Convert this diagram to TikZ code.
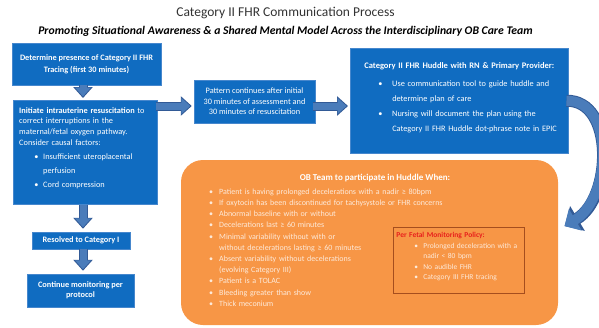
\documentclass[tikz,border=0pt]{standalone}
\usepackage{fontspec}
\setmainfont{Carlito}
\usetikzlibrary{arrows.meta,calc}

\definecolor{boxblue}{RGB}{16,108,193}
\definecolor{boxedge}{RGB}{70,135,205}
\definecolor{arrowblue}{RGB}{74,124,186}
\definecolor{arrowdark}{RGB}{50,90,150}
\definecolor{oborange}{RGB}{247,150,70}
\definecolor{obtext}{RGB}{253,234,218}
\definecolor{policyred}{RGB}{232,32,28}
\definecolor{policyedge}{RGB}{165,78,30}

\newcommand{\obbul}{\makebox[10pt][l]{\textbullet}}
\newcommand{\hbul}{\hspace*{20pt}\makebox[14pt][l]{\textbullet}}
\newcommand{\rbul}{\hspace*{18pt}\makebox[9pt][l]{\textbullet}}
\newcommand{\lbul}{\hspace*{15pt}\makebox[9pt][l]{\textbullet}}

\tikzset{
  txt/.style={font=\fontsize{8.3}{10.6}\selectfont},
  bluebox/.style={draw=boxedge, line width=0.5pt, fill=boxblue, text=white,
    inner sep=0pt, align=center, txt},
  blockarrow/.style 2 args={
    preaction={draw=arrowdark, line width=9pt,
      -{Triangle[width=19pt,length=11pt]}, shorten >=#1},
    draw=arrowblue, line width=7pt,
    -{Triangle[width=15.5pt,length=9pt]}, shorten >=#2},
  curvearrow/.style={
    preaction={draw=arrowdark, line width=12pt,
      -{Triangle[width=28pt,length=15pt]}},
    draw=arrowblue, line width=10pt,
    -{Triangle[width=24.5pt,length=12.5pt]}, shorten >=1.8pt}
}

\begin{document}
\begin{tikzpicture}[x=1pt,y=-1pt]
\useasboundingbox (0,0) rectangle (599,327);

% headings
\node[font=\fontsize{13.5}{16}\selectfont, text=black!80] (title) at (285.5,13)
  {Category II FHR Communication Process};
\node[font=\fontsize{11.7}{14}\bfseries\itshape] (subtitle) at (285.5,31)
  {Promoting Situational Awareness \& a Shared Mental Model Across the Interdisciplinary OB Care Team};

% left column
\node[bluebox, minimum width=149pt, minimum height=42pt,
      font=\fontsize{8.3}{12}\bfseries] (det) at (86.5,64)
  {Determine presence of Category II FHR\\Tracing (first 30 minutes)};

\node[bluebox, anchor=north west, inner xsep=6pt, text width=132pt,
      text height=13pt, text depth=91pt, align=left] (resus) at (13,100)
  {\textbf{Initiate intrauterine resuscitation} to\\
   correct interruptions in the\\
   maternal/fetal oxygen pathway.\\
   Consider causal factors:\\[3.4pt]
   \lbul Insufficient uteroplacental\\[3.4pt]
   \hspace*{24pt}perfusion\\[3.4pt]
   \lbul Cord compression};

\node[bluebox, minimum width=98pt, minimum height=17pt,
      font=\fontsize{8.3}{10}\bfseries] (resolved) at (81,240.5)
  {Resolved to Category I};

\node[bluebox, minimum width=107pt, minimum height=33pt,
      font=\fontsize{8.3}{10}\bfseries] (cont) at (80.5,290.5)
  {Continue monitoring per\\protocol};

% middle and right boxes
\node[bluebox, minimum width=121pt, minimum height=43pt] (pattern) at (254.5,101.5)
  {Pattern continues after initial\\30 minutes of assessment and\\30 minutes of resuscitation};

\node[bluebox, anchor=north west, inner xsep=8pt, text width=202pt,
      text height=20pt, text depth=85pt, align=left] (huddle) at (350,48)
  {\makebox[202pt][c]{\fontsize{8.5}{10}\bfseries Category II FHR Huddle with RN \& Primary Provider:}\\[7.9pt]
   \hbul Use communication tool to guide huddle and\\[4.4pt]
   \hspace*{34pt}determine plan of care\\[4.4pt]
   \hbul Nursing will document the plan using the\\[4.4pt]
   \hspace*{34pt}Category II FHR Huddle dot-phrase note in EPIC};

% OB team panel
\node[fill=oborange, rounded corners=22pt, minimum width=377pt,
      minimum height=165pt, inner sep=0pt] (ob) at (369.5,242.5) {};
\node[font=\fontsize{9}{11}\bfseries, text=white] (obtitle) at (375,178)
  {OB Team to participate in Huddle When:};
\node[anchor=north west, inner sep=0pt, text width=240pt, align=left,
      text height=8pt, text=obtext, font=\fontsize{8}{11.2}\selectfont] (oblist) at (209,186)
  {\obbul Patient is having prolonged decelerations with a nadir ≥ 80bpm\\
   \obbul If oxytocin has been discontinued for tachysystole or FHR concerns\\
   \obbul Abnormal baseline with or without\\
   \obbul Decelerations last ≥ 60 minutes\\
   \obbul Minimal variability without with or\\
   \hspace*{10pt}without decelerations lasting ≥ 60 minutes\\
   \obbul Absent variability without decelerations\\
   \hspace*{10pt}(evolving Category III)\\
   \obbul Patient is a TOLAC\\
   \obbul Bleeding greater than show\\
   \obbul Thick meconium};

\node[draw=policyedge, line width=0.8pt, anchor=north west, inner xsep=3pt,
      inner ysep=0pt, text width=125pt, text height=10.3pt, text depth=55.7pt,
      align=left, text=obtext, font=\fontsize{7.5}{10.5}\selectfont] (policy) at (393,227)
  {\textcolor{policyred}{\bfseries Per Fetal Monitoring Policy:}\\
   \rbul Prolonged deceleration with a\\
   \hspace*{27pt}nadir < 80 bpm\\
   \rbul No audible FHR\\
   \rbul Category III FHR tracing};

% connectors
\coordinate (spine) at (83,0);
\coordinate (row) at (0,106);
\draw[blockarrow={2pt}{3.5pt}] (spine |- det.south) -- (spine |- resus.north);
\draw[blockarrow={3pt}{4.5pt}] (spine |- resus.south) -- (spine |- resolved.north);
\draw[blockarrow={3pt}{4.5pt}] (spine |- resolved.south) -- (spine |- cont.north);
\draw[blockarrow={2pt}{3.5pt}] ([xshift=-2pt]resus.east |- row) -- (pattern.west |- row);
\draw[blockarrow={2pt}{3.5pt}] ([xshift=-2pt]pattern.east |- row) -- (huddle.west |- row);
\coordinate (curvetip) at (563,227);
\draw[curvearrow] ([xshift=-2pt]huddle.east)
  .. controls (615,100) and (612,198) .. (curvetip);
\end{tikzpicture}
\end{document}
